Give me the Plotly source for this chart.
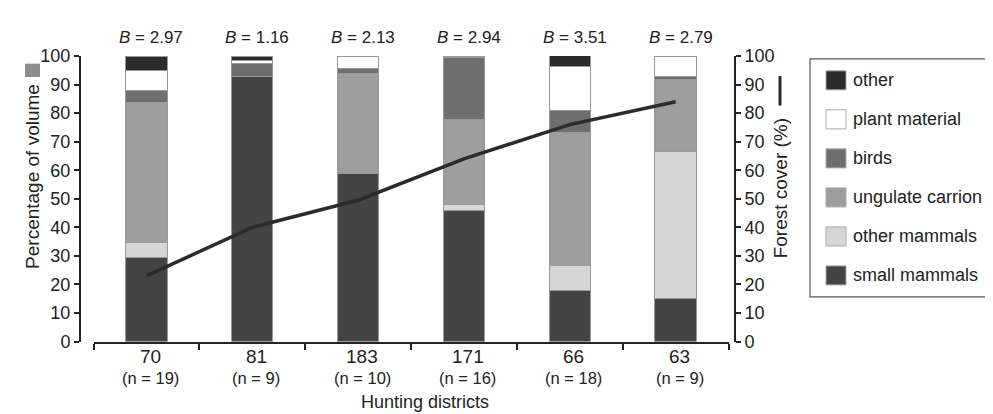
import plotly.graph_objects as go

W, H = 993, 414

districts = ["70", "81", "183", "171", "66", "63"]
sample_n = [19, 9, 10, 16, 18, 9]
b_values = ["2.97", "1.16", "2.13", "2.94", "3.51", "2.79"]

# stacked from bottom to top
small_mammals = [29.5, 93.0, 59.0, 46.0, 18.0, 15.0]
other_mammals = [5.3, 0.0, 0.0, 2.0, 8.8, 51.7]
ungulate_carrion = [48.9, 0.0, 35.0, 29.8, 46.4, 25.2]
birds = [4.1, 4.3, 1.5, 21.6, 7.8, 0.8]
plant_material = [7.2, 1.3, 4.5, 0.0, 15.3, 7.3]
other = [5.0, 1.4, 0.0, 0.6, 3.8, 0.0]

forest_cover = [23.0, 40.0, 49.5, 64.0, 76.0, 84.0]

series_names = ["small mammals", "other mammals", "ungulate carrion", "birds", "plant material", "other"]
series_values = [small_mammals, other_mammals, ungulate_carrion, birds, plant_material, other]
series_colors = ["#444444", "#d6d6d6", "#9e9e9e", "#6e6e6e", "#ffffff", "#2b2b2b"]

FONT = "Arial, Liberation Sans, sans-serif"
INK = "#222222"

def px_x(x):
    return x / W

def px_y(y):
    return 1 - y / H

fig = go.Figure()
for name, vals, col in zip(series_names, series_values, series_colors):
    fig.add_trace(go.Bar(
        x=districts, y=[v if v > 0 else None for v in vals], name=name,
        marker=dict(color=col, line=dict(color="#9a9a9a", width=1)),
        showlegend=False, yaxis="y",
    ))

fig.add_trace(go.Scatter(
    x=districts, y=forest_cover, mode="lines", name="Forest cover",
    line=dict(color="#2b2b2b", width=3.5), yaxis="y2", showlegend=False,
))

fig.update_layout(
    width=W, height=H, margin=dict(l=0, r=0, t=0, b=0),
    paper_bgcolor="white", plot_bgcolor="white",
    barmode="stack", bargap=0.608,
    font=dict(family=FONT, size=17, color=INK),
    xaxis=dict(
        domain=[px_x(85.5), px_x(720.5)], type="category", range=[-0.5, len(districts) - 0.5],
        categoryorder="array", categoryarray=districts,
        tickmode="array", tickvals=districts, showticklabels=False,
        tickson="boundaries", ticks="outside", ticklen=6, tickwidth=2, tickcolor=INK,
        showline=True, linecolor=INK, linewidth=2, showgrid=False, zeroline=False,
        anchor="y",
    ),
    yaxis=dict(
        domain=[px_y(340), px_y(40)], range=[0, 100], anchor="free", position=px_x(72),
        tickmode="linear", tick0=0, dtick=10, ticks="outside", ticklen=5, tickwidth=2,
        tickcolor=INK, showline=True, linecolor=INK, linewidth=2, showgrid=False,
        zeroline=False, tickfont=dict(size=18, color=INK),
    ),
    yaxis2=dict(
        overlaying="y", side="right", range=[0, 100], anchor="free", position=px_x(727),
        tickmode="linear", tick0=0, dtick=10, ticks="outside", ticklen=5, tickwidth=2,
        tickcolor=INK, showline=True, linecolor=INK, linewidth=2, showgrid=False,
        zeroline=False, tickfont=dict(size=18, color=INK),
    ),
)

ann = []
for i, (d, n, b) in enumerate(zip(districts, sample_n, b_values)):
    ann.append(dict(x=i, xref="x", y=px_y(20), yref="paper", text=f"<i>B</i> = {b}",
                    showarrow=False, xshift=5, yanchor="middle", font=dict(size=17, color=INK)))
    ann.append(dict(x=i, xref="x", y=px_y(356), yref="paper", text=d,
                    showarrow=False, xshift=4, yanchor="middle", font=dict(size=19, color=INK)))
    ann.append(dict(x=i, xref="x", y=px_y(378), yref="paper", text=f"(n = {n})",
                    showarrow=False, xshift=4, yanchor="middle", font=dict(size=16.5, color=INK)))

ann.append(dict(x=px_x(417), y=px_y(403), xref="paper", yref="paper", text="Hunting districts",
                showarrow=False, yanchor="middle", font=dict(size=18, color=INK)))
ann.append(dict(x=px_x(25), y=px_y(167), xref="paper", yref="paper", text="Percentage of volume",
                textangle=-90, showarrow=False, xanchor="center", yanchor="middle",
                font=dict(size=19, color=INK)))
ann.append(dict(x=px_x(772), y=px_y(179), xref="paper", yref="paper", text="Forest cover (%)",
                textangle=-90, showarrow=False, xanchor="center", yanchor="middle",
                font=dict(size=19, color=INK)))

shapes = []
# axis title markers
shapes.append(dict(type="rect", xref="paper", yref="paper",
                   x0=px_x(17), x1=px_x(32), y0=px_y(62), y1=px_y(48),
                   fillcolor="#8c8c8c", line=dict(width=0)))
shapes.append(dict(type="line", xref="paper", yref="paper",
                   x0=px_x(772), x1=px_x(772), y0=px_y(92), y1=px_y(61),
                   line=dict(color="#2b2b2b", width=3)))

# custom legend
shapes.append(dict(type="rect", xref="paper", yref="paper",
                   x0=px_x(802), x1=px_x(991), y0=px_y(293), y1=px_y(43),
                   fillcolor="rgba(0,0,0,0)", line=dict(color="#555555", width=1.2)))
legend_order = list(range(len(series_names)))[::-1]
for k, i in enumerate(legend_order):
    cy = 65.5 + 41 * k
    shapes.append(dict(type="rect", xref="paper", yref="paper",
                       x0=px_x(818), x1=px_x(838), y0=px_y(cy + 10), y1=px_y(cy - 10),
                       fillcolor=series_colors[i], line=dict(color="#aaaaaa", width=1)))
    ann.append(dict(x=px_x(843), y=px_y(cy), xref="paper", yref="paper", text=series_names[i],
                    showarrow=False, xanchor="left", yanchor="middle",
                    font=dict(size=18, color=INK)))

fig.update_layout(annotations=ann, shapes=shapes)
fig.write_html("out.html")
